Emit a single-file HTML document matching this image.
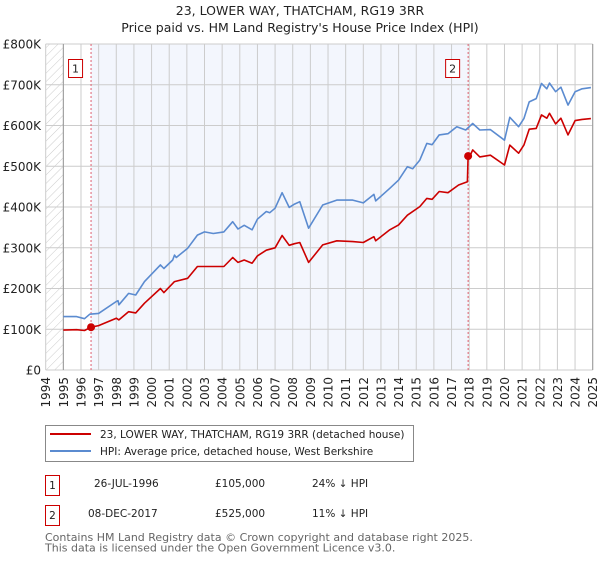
<!DOCTYPE html>
<html><head><meta charset="utf-8"><style>
body{margin:0;background:#fff;font-family:"DejaVu Sans","Liberation Sans",sans-serif;}
svg text{font-family:"DejaVu Sans","Liberation Sans",sans-serif;}
</style></head><body>
<svg id="c" width="600" height="560" xmlns="http://www.w3.org/2000/svg">
<defs><pattern id="h" width="6" height="6" patternUnits="userSpaceOnUse" patternTransform="rotate(45)"><line x1="0" y1="0" x2="0" y2="6" stroke="#ccc" stroke-width="1"/></pattern></defs>
<text x="300" y="15" text-anchor="middle" font-size="12.5" fill="#222">23, LOWER WAY, THATCHAM, RG19 3RR</text>
<text x="300" y="32" text-anchor="middle" font-size="12.5" fill="#222">Price paid vs. HM Land Registry's House Price Index (HPI)</text>
<g id="plot"></g>
<g>
<rect x="45.5" y="425.5" width="368" height="36" fill="#fff" stroke="#888"/>
<line x1="50" y1="434" x2="91" y2="434" stroke="#cc0000" stroke-width="2"/>
<text x="100" y="438" font-size="10.5" fill="#222">23, LOWER WAY, THATCHAM, RG19 3RR (detached house)</text>
<line x1="50" y1="451" x2="91" y2="451" stroke="#5b8bd0" stroke-width="2"/>
<text x="100" y="455" font-size="10.5" fill="#222">HPI: Average price, detached house, West Berkshire</text>
</g>
<g font-size="10.5" fill="#222">
<rect x="45.5" y="475.5" width="14" height="20" fill="none" stroke="#cc0000"/>
<text x="52.5" y="489" text-anchor="middle">1</text>
<text x="94" y="487">26-JUL-1996</text><text x="215" y="487">£105,000</text><text x="312" y="487">24% ↓ HPI</text>
</g>
<g font-size="10.5" fill="#222">
<rect x="45.5" y="505.5" width="14" height="20" fill="none" stroke="#cc0000"/>
<text x="52.5" y="519" text-anchor="middle">2</text>
<text x="88" y="517">08-DEC-2017</text><text x="215" y="517">£525,000</text><text x="312" y="517">11% ↓ HPI</text>
</g>
<text x="45" y="541" font-size="11" fill="#666">Contains HM Land Registry data © Crown copyright and database right 2025.</text>
<text x="45" y="551.5" font-size="11" fill="#666">This data is licensed under the Open Government Licence v3.0.</text>
</svg>
<script>
const hpiDates=[1995.0,1995.75,1996.2,1996.5,1997.0,1998.0,1998.1,1998.15,1998.7,1999.1,1999.6,2000.5,2000.7,2001.2,2001.3,2001.4,2002.05,2002.6,2003.0,2003.5,2004.1,2004.6,2004.9,2005.25,2005.7,2006.0,2006.5,2006.7,2007.0,2007.4,2007.8,2008.1,2008.4,2008.9,2009.7,2010.5,2011.4,2012.0,2012.6,2012.7,2013.5,2014.0,2014.5,2014.8,2015.2,2015.6,2015.9,2016.3,2016.8,2017.3,2017.8,2018.2,2018.6,2019.2,2020.0,2020.3,2020.8,2021.1,2021.4,2021.8,2022.1,2022.4,2022.55,2022.9,2023.2,2023.6,2024.0,2024.4,2024.9];
const hpiValues=[131,131,126,137,139,168,170,160,188,184,217,258,249,270,282,276,299,331,339,335,339,364,346,355,344,370,389,386,397,435,399,407,413,348,405,417,417,410,431,415,446,466,499,494,515,556,553,577,580,597,589,605,589,590,564,620,597,617,658,666,703,690,704,683,694,650,683,690,693];
const paidDates=[1995.0,1995.75,1996.2,1996.57,1997.0,1998.0,1998.15,1998.7,1999.1,1999.6,2000.5,2000.7,2001.3,2002.05,2002.6,2003.5,2004.1,2004.6,2004.9,2005.25,2005.7,2006.0,2006.5,2007.0,2007.4,2007.8,2008.1,2008.4,2008.9,2009.7,2010.5,2011.4,2012.0,2012.6,2012.7,2013.5,2014.0,2014.5,2015.2,2015.6,2015.9,2016.3,2016.8,2017.4,2017.9,2017.94,2017.98,2018.2,2018.6,2019.2,2020.0,2020.3,2020.8,2021.1,2021.4,2021.8,2022.1,2022.4,2022.55,2022.9,2023.2,2023.6,2024.0,2024.4,2024.9];
const paidValues=[98,99,97,105,109,127,123,143,140,164,200,190,217,225,254,254,254,276,264,270,262,280,294,300,330,306,310,313,264,307,317,315,313,327,317,344,356,380,401,421,419,438,435,454,462,525,519,540,523,527,503,552,532,552,591,593,626,618,630,604,618,577,612,615,617];
const saleDates=[1996.57,2017.94];
const saleValues=[105,525];
const saleLabels=["1","2"];
const yTicks=[0,100,200,300,400,500,600,700,800];
const yTickLabels=["£0","£100K","£200K","£300K","£400K","£500K","£600K","£700K","£800K"];
const xYears=[1994,1995,1996,1997,1998,1999,2000,2001,2002,2003,2004,2005,2006,2007,2008,2009,2010,2011,2012,2013,2014,2015,2016,2017,2018,2019,2020,2021,2022,2023,2024,2025];

const NS="http://www.w3.org/2000/svg";
const L=45.7,R=592.7,T=44,B=370;
function xs(t){return L+(t-1994)*(R-L)/31;}
function ys(v){return B-v*(B-T)/800;}
const g=document.getElementById('plot');
function mk(tag,attrs){const e=document.createElementNS(NS,tag);for(const k in attrs)e.setAttribute(k,attrs[k]);g.appendChild(e);return e;}
let e;
e=mk('rect',{x:L,y:T,width:xs(1995)-L,height:B-T,fill:'url(#h)'});


e=mk('rect',{x:xs(saleDates[0]),y:T,width:xs(saleDates[1])-xs(saleDates[0]),height:B-T,fill:'#f3f6fd'});


xYears.forEach((yr,i)=>{
  e=mk('line',{x1:xs(yr),x2:xs(yr),y1:T,y2:B,stroke:'#ccc','stroke-width':1});
  
  
  const x=xs(yr)+4.5;
  e=mk('text',{x:x,y:377,transform:`rotate(-90 ${x} 377)`,'text-anchor':'end','font-size':12,fill:'#222'});
  e.textContent=yr;
  
  
});
yTicks.forEach((v,i)=>{
  e=mk('line',{x1:L,x2:R,y1:ys(v),y2:ys(v),stroke:'#ccc','stroke-width':1});
  
  
  e=mk('text',{x:41,y:ys(v)+4.5,'text-anchor':'end','font-size':12,fill:'#222'});
  e.textContent=yTickLabels[i];
  
  
});
e=mk('line',{x1:xs(1995),x2:xs(1995),y1:T,y2:B,stroke:'#999'});


e=mk('line',{x1:R,x2:R,y1:T,y2:B,stroke:'#999'});


saleDates.forEach((d,i)=>{
  e=mk('line',{x1:xs(d),x2:xs(d),y1:T,y2:B,stroke:'#e06070','stroke-dasharray':'2,2','stroke-width':1});
  
  
  e=mk('rect',{x:xs(d)-22.5,y:59.5,width:14,height:18,fill:'#fff',stroke:'#cc0000'});
  
  
  e=mk('text',{x:xs(d)-15.5,y:72.5,'text-anchor':'middle','font-size':11,fill:'#222'});
  e.textContent=saleLabels[i];
  
  
});
function path(ds,vs,col,name){
  const d=ds.map((t,i)=>(i?'L':'M')+xs(t).toFixed(1)+' '+ys(vs[i]).toFixed(1)).join(' ');
  const p=mk('path',{d:d,fill:'none',stroke:col,'stroke-width':1.6,'stroke-linejoin':'round'});
  
  
}
path(hpiDates,hpiValues,'#5b8bd0','hpi-line');
path(paidDates,paidValues,'#cc0000','price-paid-line');
saleDates.forEach((d,i)=>{
  e=mk('circle',{cx:xs(d),cy:ys(saleValues[i]),r:4,fill:'#cc0000'});
  
  
});
</script>
</body></html>
